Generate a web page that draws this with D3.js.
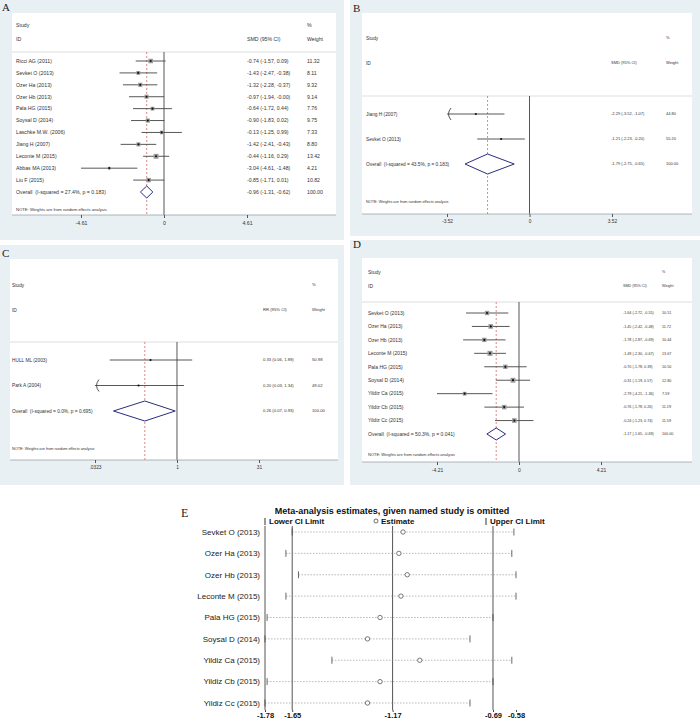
<!DOCTYPE html>
<html>
<head>
<meta charset="utf-8">
<script src="https://cdn.jsdelivr.net/npm/d3@7"></script>
<style>
body { margin: 0; background: #fff; }
text { font-family: "Liberation Sans", Arial, sans-serif; }
</style>
</head>
<body>
<svg id="fig" width="700" height="721"></svg>
<script>
// ---- panel A data
const studiesA = ["Ricci AG (2011)", "Sevket O (2013)", "Ozer Ha (2013)", "Ozer Hb (2013)", "Pala HG (2015)",
  "Soysal D (2014)", "Laschke M.W. (2006)", "Jiang H (2007)", "Leconte M (2015)", "Abbas MA (2013)", "Liu F (2015)"];
const smdA = [-0.74, -1.43, -1.32, -0.97, -0.64, -0.90, -0.13, -1.42, -0.44, -3.04, -0.85];
const lowA = [-1.57, -2.47, -2.28, -1.94, -1.72, -1.83, -1.25, -2.41, -1.16, -4.61, -1.71];
const highA = [0.09, -0.38, -0.37, -0.00, 0.44, 0.02, 0.99, -0.43, 0.29, -1.48, 0.01];
const weightA = [11.32, 8.11, 9.32, 9.14, 7.76, 9.75, 7.33, 8.80, 13.42, 4.21, 10.82];
const overallA = [-0.96, -1.31, -0.62];
const hetA = "Overall\u00a0\u00a0(I-squared = 27.4%, p = 0.183)";
const ticksA = [-4.61, 0, 4.61];

// ---- panel B data
const studiesB = ["Jiang H (2007)", "Sevket O (2013)"];
const smdB = [-2.29, -1.21];
const lowB = [-3.52, -2.23];
const highB = [-1.07, -0.20];
const weightB = [44.80, 55.20];
const clipB = [true, false];
const overallB = [-1.79, -2.75, -0.65];
const hetB = "Overall\u00a0\u00a0(I-squared = 43.5%, p = 0.183)";
const ticksB = [-3.52, 0, 3.52];

// ---- panel C data (risk ratios, log axis)
const studiesC = ["HULL ML (2003)", "Park A (2004)"];
const rrC = [0.33, 0.20];
const lowC = [0.06, 0.03];
const highC = [1.89, 1.34];
const weightC = [50.98, 49.02];
const clipC = [false, true];
const overallC = [0.26, 0.07, 0.93];
const hetC = "Overall\u00a0\u00a0(I-squared = 0.0%, p = 0.695)";
const ticksC = [0.0323, 1, 31];
const tickLabelsC = [".0323", "1", "31"];

// ---- panel D data
const studiesD = ["Sevket O (2013)", "Ozer Ha (2013)", "Ozer Hb (2013)", "Leconte M (2015)", "Pala HG (2015)",
  "Soysal D (2014)", "Yildiz Ca (2015)", "Yildiz Cb (2015)", "Yildiz Cc (2015)"];
const smdD = [-1.64, -1.45, -1.78, -1.49, -0.70, -0.31, -2.79, -0.76, -0.24];
const lowD = [-2.72, -2.42, -2.87, -2.30, -1.78, -1.19, -4.21, -1.78, -1.23];
const highD = [-0.55, -0.48, -0.69, -0.67, 0.39, 0.57, -1.36, 0.26, 0.74];
const weightD = [10.51, 11.72, 10.44, 13.67, 10.50, 12.80, 7.59, 11.19, 11.59];
const overallD = [-1.17, -1.65, -0.69];
const hetD = "Overall\u00a0\u00a0(I-squared = 50.3%, p = 0.041)";
const ticksD = [-4.21, 0, 4.21];

// ---- panel E data (leave-one-out on D)
const estE = [-1.12, -1.14, -1.10, -1.13, -1.23, -1.29, -1.04, -1.23, -1.29];
const lowE = [-1.65, -1.68, -1.62, -1.68, -1.77, -1.78, -1.46, -1.77, -1.78];
const highE = [-0.59, -0.60, -0.58, -0.58, -0.69, -0.80, -0.60, -0.69, -0.80];
const ticksE = [-1.78, -1.65, -1.17, -0.69, -0.58];

const svg = d3.select("#fig");
const bgColor = "#e9f0f3";
const fmt = v => (v < 0 || Object.is(v, -0) ? "-" : "") + Math.abs(v).toFixed(2);

function forest(c) {
  const g = svg.append("g");
  g.append("rect").attr("x", c.bg[0]).attr("y", c.bg[1]).attr("width", c.bg[2]).attr("height", c.bg[3])
    .attr("fill", bgColor);
  g.append("rect").attr("x", c.box[0]).attr("y", c.box[1]).attr("width", c.box[2] - c.box[0])
    .attr("height", c.box[3] - c.box[1]).attr("fill", "#fff");
  g.append("text").attr("x", c.letter[0]).attr("y", c.letter[1]).text(c.name)
    .style("font-family", "'Liberation Serif', serif").style("font-size", "11px").attr("fill", "#222");

  const fs = c.fs + "px", vf = c.vf + "px";
  const txt = (x, y, s, size) => g.append("text").attr("x", x).attr("y", y).attr("dy", "0.35em")
    .style("font-size", size || fs).attr("fill", "#333").text(s);

  txt(c.labelX, c.head[0], "Study");
  txt(c.labelX, c.head[1], "ID");
  txt(c.colX[1], c.head[0], "%", vf);
  txt(c.colX[0], c.head[1], c.measure + " (95% CI)", vf);
  txt(c.colX[1], c.head[1], "Weight", vf);

  g.append("line").attr("x1", c.box[0]).attr("x2", c.box[2]).attr("y1", c.sep).attr("y2", c.sep)
    .attr("stroke", "#cfd6da").attr("stroke-width", 0.8);

  const x = c.x, y = c.y, n = c.names.length;
  const dom = x.domain();

  g.append("line").attr("x1", x(c.nullValue)).attr("x2", x(c.nullValue))
    .attr("y1", c.sep).attr("y2", c.axisY).attr("stroke", "#444").attr("stroke-width", 0.9);
  g.append("line").attr("x1", x(c.overall[0])).attr("x2", x(c.overall[0]))
    .attr("y1", c.sep).attr("y2", c.axisY).attr("stroke", "#d46a6a").attr("stroke-width", 0.8)
    .attr("stroke-dasharray", "2,2");

  c.names.forEach((name, i) => {
    const yy = y(i);
    const lo = Math.max(c.low[i], dom[0]), hi = Math.min(c.high[i], dom[1]);
    g.append("line").attr("x1", x(lo)).attr("x2", x(hi)).attr("y1", yy).attr("y2", yy)
      .attr("stroke", "#444").attr("stroke-width", 0.9);
    if (c.clip && c.clip[i]) {
      const ax = x(lo);
      g.append("path").attr("d", `M${ax + 4},${yy - 6} Q${ax - 1},${yy} ${ax + 4},${yy + 6}`)
        .attr("fill", "none").attr("stroke", "#444").attr("stroke-width", 0.9);
    }
    if (c.boxes) {
      const s = Math.sqrt(c.weight[i]) * 1.35;
      g.append("rect").attr("x", x(c.est[i]) - s / 2).attr("y", yy - s / 2).attr("width", s).attr("height", s)
        .attr("fill", "#9a9a9a");
    }
    g.append("circle").attr("cx", x(c.est[i])).attr("cy", yy).attr("r", 1.1).attr("fill", "#111");
    txt(c.labelX, yy, name);
    txt(c.colX[0], yy, `${fmt(c.est[i])} (${fmt(c.low[i])}, ${fmt(c.high[i])})`, vf);
    txt(c.colX[1], yy, c.weight[i].toFixed(2), vf);
  });

  const yo = y(n), h = c.dh;
  g.append("path")
    .attr("d", `M${x(c.overall[1])},${yo} L${x(c.overall[0])},${yo - h} L${x(c.overall[2])},${yo} L${x(c.overall[0])},${yo + h} Z`)
    .attr("fill", "#fff").attr("stroke", "#2b2d7c").attr("stroke-width", 1);
  txt(c.labelX, yo, c.het);
  txt(c.colX[0], yo, `${fmt(c.overall[0])} (${fmt(c.overall[1])}, ${fmt(c.overall[2])})`, vf);
  txt(c.colX[1], yo, "100.00", vf);
  txt(c.labelX, c.noteY, "NOTE: Weights are from random effects analysis", (c.fs - 1) + "px");

  g.append("line").attr("x1", c.box[0]).attr("x2", c.box[2]).attr("y1", c.axisY).attr("y2", c.axisY)
    .attr("stroke", "#9aa3a8").attr("stroke-width", 0.8);
  const ax = g.append("g").attr("transform", `translate(0,${c.axisY})`)
    .call(d3.axisBottom(x).tickValues(c.ticks).tickSize(3).tickPadding(3)
      .tickFormat((d, i) => c.tickLabels ? c.tickLabels[i] : (d === 0 ? "0" : fmt(d))));
  ax.select(".domain").remove();
  ax.selectAll(".tick line").attr("stroke", "#555");
  ax.selectAll(".tick text").style("font-size", fs).attr("fill", "#333")
    .style("font-family", "'Liberation Sans', Arial, sans-serif");
}

forest({
  name: "A", bg: [0, 0, 344, 240], box: [12, 13, 336, 215], letter: [2, 11],
  labelX: 16, head: [25, 39], colX: [247, 307], sep: 52, axisY: 215, noteY: 210, fs: 5.2, vf: 5.2,
  measure: "SMD", names: studiesA, est: smdA, low: lowA, high: highA, weight: weightA,
  overall: overallA, het: hetA, ticks: ticksA, nullValue: 0, boxes: true, dh: 6,
  x: d3.scaleLinear().domain([-4.61, 4.61]).range([81, 247]),
  y: d3.scaleLinear().domain([0, studiesA.length]).range([61, 192])
});

forest({
  name: "B", bg: [350, 0, 350, 236], box: [362, 13, 692, 214], letter: [353, 12],
  labelX: 366, head: [38, 63], colX: [611, 666], sep: 96, axisY: 214, noteY: 202, fs: 4.8, vf: 4,
  measure: "SMD", names: studiesB, est: smdB, low: lowB, high: highB, weight: weightB, clip: clipB,
  overall: overallB, het: hetB, ticks: ticksB, nullValue: 0, boxes: false, dh: 10,
  x: d3.scaleLinear().domain([-3.52, 3.52]).range([447, 612]),
  y: d3.scaleLinear().domain([0, studiesB.length]).range([114, 164])
});

forest({
  name: "C", bg: [0, 245, 344, 240], box: [10, 259, 338, 460], letter: [2, 257],
  labelX: 12, head: [285, 310], colX: [263, 312], sep: 342, axisY: 460, noteY: 449, fs: 4.8, vf: 4.2,
  measure: "RR", names: studiesC, est: rrC, low: lowC, high: highC, weight: weightC, clip: clipC,
  overall: overallC, het: hetC, ticks: ticksC, tickLabels: tickLabelsC, nullValue: 1, boxes: false, dh: 10,
  x: d3.scaleLog().domain([0.0323, 31]).range([95, 259]),
  y: d3.scaleLinear().domain([0, studiesC.length]).range([360, 411])
});

forest({
  name: "D", bg: [350, 240, 350, 245], box: [362, 258, 692, 462], letter: [353, 248],
  labelX: 368, head: [272, 286], colX: [623, 662], sep: 302, axisY: 462, noteY: 455, fs: 5, vf: 3.7,
  measure: "SMD", names: studiesD, est: smdD, low: lowD, high: highD, weight: weightD,
  overall: overallD, het: hetD, ticks: ticksD, nullValue: 0, boxes: true, dh: 6,
  x: d3.scaleLinear().domain([-4.21, 4.21]).range([437, 601]),
  y: d3.scaleLinear().domain([0, studiesD.length]).range([313, 434])
});

// ---- panel E: influence analysis
const gE = svg.append("g");
const xE = d3.scaleLinear().domain(d3.extent(ticksE)).range([265, 516]);
const yE = d3.scalePoint().domain(studiesD).range([532, 703]);
const topE = 526, botE = 710;

gE.append("text").attr("x", 181).attr("y", 517).text("E")
  .style("font-family", "'Liberation Serif', serif").style("font-size", "12px").attr("fill", "#222");
gE.append("text").attr("x", 392).attr("y", 514).attr("text-anchor", "middle")
  .style("font-size", "9px").style("font-weight", "bold").attr("fill", "#111")
  .text("Meta-analysis estimates, given named study is omitted");

// legend
const legY = 524;
gE.append("line").attr("x1", 265).attr("x2", 265).attr("y1", legY - 6).attr("y2", legY + 1).attr("stroke", "#333");
gE.append("text").attr("x", 269).attr("y", legY).style("font-size", "8px").style("font-weight", "bold")
  .attr("fill", "#111").text("Lower CI Limit");
gE.append("circle").attr("cx", 376).attr("cy", legY - 3).attr("r", 2).attr("fill", "none").attr("stroke", "#333").attr("stroke-width", 0.7);
gE.append("text").attr("x", 381).attr("y", legY).style("font-size", "8px").style("font-weight", "bold")
  .attr("fill", "#111").text("Estimate");
gE.append("line").attr("x1", 486).attr("x2", 486).attr("y1", legY - 6).attr("y2", legY + 1).attr("stroke", "#333");
gE.append("text").attr("x", 490).attr("y", legY).style("font-size", "8px").style("font-weight", "bold")
  .attr("fill", "#111").text("Upper CI Limit");

// y axis line and overall reference lines
[d3.min(ticksE)].concat(overallD).forEach(v => {
  gE.append("line").attr("x1", xE(v)).attr("x2", xE(v)).attr("y1", topE).attr("y2", botE)
    .attr("stroke", "#555").attr("stroke-width", 1);
});

studiesD.forEach((s, i) => {
  const yy = yE(s);
  gE.append("line").attr("x1", xE(lowE[i])).attr("x2", xE(highE[i])).attr("y1", yy).attr("y2", yy)
    .attr("stroke", "#8a8a8a").attr("stroke-width", 0.6).attr("stroke-dasharray", "1.5,1.5");
  [lowE[i], highE[i]].forEach(v => {
    gE.append("line").attr("x1", xE(v)).attr("x2", xE(v)).attr("y1", yy - 3.5).attr("y2", yy + 3.5)
      .attr("stroke", "#444").attr("stroke-width", 0.8);
  });
  gE.append("circle").attr("cx", xE(estE[i])).attr("cy", yy).attr("r", 2.2)
    .attr("fill", "#fff").attr("stroke", "#444").attr("stroke-width", 0.7);
  gE.append("text").attr("x", 260).attr("y", yy).attr("dy", "0.35em").attr("text-anchor", "end")
    .style("font-size", "8px").attr("fill", "#222").text(s);
});

const axE = gE.append("g").attr("transform", `translate(0,${botE})`)
  .call(d3.axisBottom(xE).tickValues(ticksE).tickSize(2).tickPadding(1).tickFormat(fmt));
axE.select(".domain").remove();
axE.selectAll(".tick line").attr("stroke", "#444");
axE.selectAll(".tick text").style("font-size", "7.5px").style("font-weight", "bold").attr("fill", "#111")
  .style("font-family", "'Liberation Sans', Arial, sans-serif");
</script>
</body>
</html>
